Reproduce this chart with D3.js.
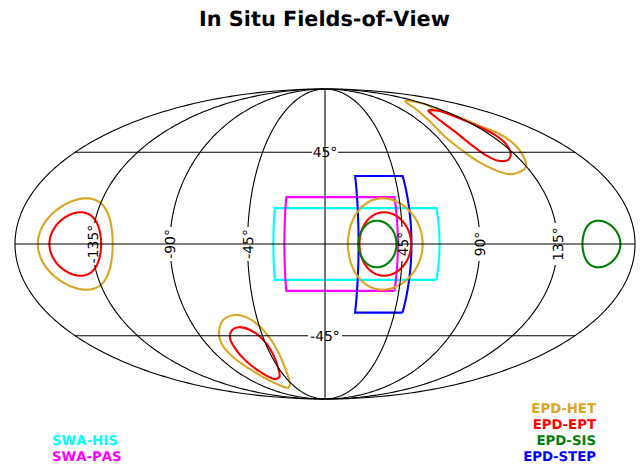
<!DOCTYPE html>
<html>
<head>
<meta charset="utf-8">
<style>
  html, body { margin: 0; padding: 0; background: #fff; }
  svg { display: block; }
  text { font-family: "DejaVu Sans", sans-serif; text-rendering: geometricPrecision; font-kerning: none; }
</style>
<script src="https://cdn.jsdelivr.net/npm/d3@7"></script>
</head>
<body>
<div id="chart"></div>
<script>
// grid ticks, degrees
const lonTicks = [-135, -90, -45, 45, 90, 135];
const latTicks = [-45, 45];

// rectangular fields of view: [min, max] in degrees
const boxNames = ['SWA-HIS', 'SWA-PAS', 'EPD-STEP'];
const boxLon = [[-30, 66.5], [-23.6, 42.3], [19.5, 50.2]];
const boxLat = [[-17, 17], [-22.3, 22.3], [-33, 32.7]];
const boxColors = ['cyan', 'magenta', 'blue'];

// conical fields of view near the ecliptic: centre and half angle in degrees
const coneLon = [35, -145, 35, -145, 30.5, 160.5];
const coneLat = [0, 0, 0, 0, 0, 0];
const coneRadius = [21.7, 21.7, 15, 15, 11, 11];
const coneColors = ['goldenrod', 'goldenrod', 'red', 'red', 'green', 'green'];

// north and south telescopes, outlines as [lon, lat]
const hetNorth = [[120.4, 77.0], [133.8, 75.2], [132.2, 71.5], [135.7, 64.7], [139.2, 59.5],
  [143.8, 55.6], [143.4, 48.9], [138.2, 40.9], [134.6, 37.4], [126.4, 34.4],
  [119.3, 33.7], [112.3, 35.7], [105.0, 40.0], [99.8, 46.2], [96.6, 53.6],
  [100.0, 63.6], [108.1, 71.5]];
const eptNorth = [[117.5, 69.8], [128.9, 69.8], [132.3, 65.8], [135.9, 60.5], [138.8, 54.6],
  [137.1, 48.9], [131.7, 43.5], [126.6, 40.9], [119.3, 40.5], [114.2, 43.2],
  [110.7, 48.9], [109.5, 56.5], [110.3, 62.6], [113.8, 67.5]];
const hetSouth = [[-73.8, -41.9], [-67.8, -36.7], [-58.8, -34.2], [-51.6, -35.4], [-44.6, -40.2],
  [-39.1, -49.1], [-37.9, -60.7], [-48.9, -75.4], [-56.9, -77.6], [-65.3, -74.7],
  [-71.9, -67.1], [-77.3, -58.7], [-78.8, -51.0], [-76.6, -45.5]];
const eptSouth = [[-69.5, -46.4], [-65.4, -42.3], [-59.7, -40.5], [-52.3, -41.9], [-46.3, -46.4],
  [-43.0, -53.8], [-45.4, -63.8], [-51.3, -69.4], [-59.1, -71.0], [-66.6, -66.0],
  [-70.0, -58.7], [-70.6, -51.9]];

// legend, bottom left and bottom right
const legendLeft = [['SWA-HIS', 'cyan'], ['SWA-PAS', 'magenta']];
const legendRight = [['EPD-HET', 'goldenrod'], ['EPD-EPT', 'red'], ['EPD-SIS', 'green'], ['EPD-STEP', 'blue']];

const width = 640;
const height = 464;
const rad = Math.PI / 180;

// plot coordinates of the Mollweide map
const x = d3.scaleLinear().domain([-2 * Math.SQRT2, 2 * Math.SQRT2]).range([15, 635]);
const y = d3.scaleLinear().domain([-Math.SQRT2, Math.SQRT2]).range([399, 89]);

function mollweide(lon, lat) {
  const target = Math.PI * Math.sin(lat * rad);
  let theta = lat * rad;
  // Newton iterations, stop early near the poles
  for (let i = 0; i < 50; i++) {
    const denom = 2 + 2 * Math.cos(2 * theta);
    if (Math.abs(denom) < 1e-6) break;
    const delta = (2 * theta + Math.sin(2 * theta) - target) / denom;
    theta -= delta;
    if (Math.abs(delta) < 1e-7) break;
  }
  return [
    x(2 * Math.SQRT2 / Math.PI * lon * rad * Math.cos(theta)),
    y(Math.SQRT2 * Math.sin(theta))
  ];
}

const line = d3.line().x(d => mollweide(d[0], d[1])[0]).y(d => mollweide(d[0], d[1])[1]);
const lobe = d3.line()
  .x(d => mollweide(d[0], d[1])[0])
  .y(d => mollweide(d[0], d[1])[1])
  .curve(d3.curveCatmullRomClosed.alpha(0.5));

function boxOutline(lon, lat) {
  const side = d3.range(lat[0], lat[1], 1).concat(lat[1]);
  return [
    ...side.map(v => [lon[1], v]),
    ...side.slice().reverse().map(v => [lon[0], v]),
    [lon[1], lat[0]]
  ];
}

function coneOutline(lon, lat, r) {
  return d3.geoCircle().center([lon, lat]).radius(r).precision(1)().coordinates[0];
}

const meridian = lon => d3.range(-90, 90.5, 1).map(v => [lon, v]);
const parallel = lat => d3.range(-180, 180.5, 2).map(v => [v, lat]);

const svg = d3.select('#chart').append('svg')
  .attr('width', width)
  .attr('height', height);

svg.append('text')
  .attr('x', 324.5)
  .attr('y', 26)
  .attr('text-anchor', 'middle')
  .attr('font-size', 20.8)
  .attr('font-weight', 'bold')
  .text('In Situ Fields-of-View');

// Fields of view go under the grid
const fov = svg.append('g').attr('fill', 'none').attr('stroke-width', 2.1);

boxNames.forEach((name, i) => {
  fov.append('path')
    .attr('stroke', boxColors[i])
    .attr('d', line(boxOutline(boxLon[i], boxLat[i])));
});

coneLon.forEach((lon, i) => {
  fov.append('path')
    .attr('stroke', coneColors[i])
    .attr('d', line(coneOutline(lon, coneLat[i], coneRadius[i])));
});

[hetNorth, hetSouth].forEach(d => fov.append('path').attr('stroke', 'goldenrod').attr('d', lobe(d)));
[eptNorth, eptSouth].forEach(d => fov.append('path').attr('stroke', 'red').attr('d', lobe(d)));

// Labels knock a gap out of the grid lines they sit on
const mask = svg.append('defs').append('mask')
  .attr('id', 'label-gaps')
  .attr('maskUnits', 'userSpaceOnUse')
  .attr('x', 0).attr('y', 0).attr('width', width).attr('height', height);
mask.append('rect').attr('width', width).attr('height', height).attr('fill', '#fff');

lonTicks.forEach(lon => {
  const p = mollweide(lon, 0);
  const half = lon === -135 || lon === 135 ? 21 : 17;
  mask.append('rect')
    .attr('x', p[0] - 10).attr('y', p[1] - half)
    .attr('width', 20).attr('height', half * 2)
    .attr('fill', '#000');
});
latTicks.forEach(lat => {
  const p = mollweide(0, lat);
  const half = lat < 0 ? 17 : 13;
  mask.append('rect')
    .attr('x', p[0] - half).attr('y', p[1] - 10)
    .attr('width', half * 2).attr('height', 20)
    .attr('fill', '#000');
});

const grid = svg.append('g').attr('fill', 'none').attr('stroke', '#000').attr('stroke-width', 1.1);
const gaps = grid.append('g').attr('mask', 'url(#label-gaps)');

lonTicks.forEach(lon => {
  gaps.append('path').attr('d', line(meridian(lon)));
});
latTicks.forEach(lat => {
  gaps.append('path').attr('d', line(parallel(lat)));
});
grid.append('path').attr('d', line(meridian(0)));
grid.append('path').attr('d', line(parallel(0)));
grid.append('path').attr('d', line(meridian(-180)) + line(meridian(180)));

// Tick labels
lonTicks.forEach(lon => {
  const p = mollweide(lon, 0);
  svg.append('text')
    .attr('transform', `translate(${p[0]},${p[1]}) rotate(-90)`)
    .attr('text-anchor', 'middle')
    .attr('dy', '0.36em')
    .attr('font-size', 13.9)
    .text(`${lon}°`);
});
latTicks.forEach(lat => {
  const p = mollweide(0, lat);
  svg.append('text')
    .attr('x', p[0])
    .attr('y', p[1])
    .attr('text-anchor', 'middle')
    .attr('dy', '0.36em')
    .attr('font-size', 13.9)
    .text(`${lat}°`);
});

// Legend text
svg.selectAll('.legend-left')
  .data(legendLeft)
  .enter().append('text')
  .attr('class', 'legend-left')
  .attr('x', 52)
  .attr('y', (d, i) => 444.8 + i * 16)
  .attr('font-size', 13.3)
  .attr('font-weight', 'bold')
  .attr('fill', d => d[1])
  .text(d => d[0]);

svg.selectAll('.legend-right')
  .data(legendRight)
  .enter().append('text')
  .attr('class', 'legend-right')
  .attr('x', 596)
  .attr('y', (d, i) => 412.8 + i * 16)
  .attr('text-anchor', 'end')
  .attr('font-size', 13.3)
  .attr('font-weight', 'bold')
  .attr('fill', d => d[1])
  .text(d => d[0]);
</script>
</body>
</html>
